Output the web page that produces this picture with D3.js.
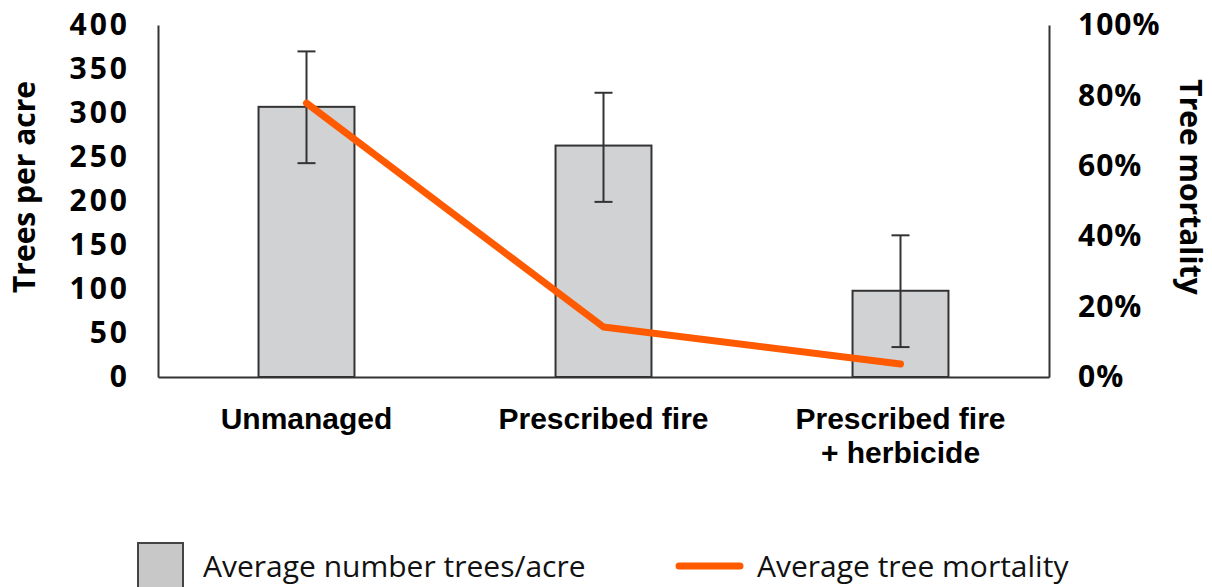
<!DOCTYPE html>
<html>
<head>
<meta charset="utf-8">
<script src="https://cdn.jsdelivr.net/npm/d3@7"></script>
<style>
  body { margin: 0; background: #fff; }
  svg { display: block; font-family: "Open Sans", sans-serif; }
</style>
</head>
<body>
<svg id="chart" width="1212" height="587"></svg>
<script>
// values
const categories = ["Unmanaged", "Prescribed fire", "Prescribed fire|+ herbicide"]
const treesPerAcre = [307, 263, 98]
const errLow = [243, 199, 34]
const errHigh = [370, 323, 161]
const mortality = [0.778, 0.142, 0.037]
const leftTicks = [0, 50, 100, 150, 200, 250, 300, 350, 400]
const rightTicks = [0, 0.2, 0.4, 0.6, 0.8, 1]
const legendLabels = ["Average number trees/acre", "Average tree mortality"]

const margin = { top: 25, bottom: 210, left: 158, right: 163 }
const W = 1212, H = 587
const width = W - margin.left - margin.right
const height = H - margin.top - margin.bottom

const barFill = "#d1d2d4"
const ink = "#333"
const orange = "#ff5a00"

const svg = d3.select("#chart")
const g = svg.append("g").attr("transform", `translate(${margin.left},${margin.top})`)

const x = d3.scaleBand().domain(categories).range([0, width])
  .paddingInner(0.677).paddingOuter(0.3385)
const y = d3.scaleLinear().domain([0, 400]).range([height, 0])
const y2 = d3.scaleLinear().domain([0, 1]).range([height, 0])

// axes
const tickFont = spacing => sel => sel.selectAll("text")
  .attr("fill", "#000").style("font-size", "30px").style("font-weight", 700)
  .style("letter-spacing", spacing + "px").style("font-family", "Open Sans")

const yAxis = g.append("g")
  .call(d3.axisLeft(y).tickValues(leftTicks).tickSize(0).tickSizeOuter(0).tickPadding(28))
yAxis.call(tickFont(3))
const y2Axis = g.append("g").attr("transform", `translate(${width},0)`)
  .call(d3.axisRight(y2).tickValues(rightTicks).tickSize(0).tickSizeOuter(0).tickPadding(29)
    .tickFormat(d3.format(".0%")))
y2Axis.call(tickFont(1))
const xAxis = g.append("g").attr("transform", `translate(0,${height})`)
  .call(d3.axisBottom(x).tickSize(0).tickSizeOuter(0).tickPadding(0))
xAxis.selectAll("text").remove()
xAxis.selectAll(".tick").append("text")
  .attr("text-anchor", "middle")
  .attr("fill", "#000")
  .style("font-size", "30px").style("font-weight", 700)
  .each(function (d) {
    const lines = d.split("|")
    lines.forEach((t, i) => {
      d3.select(this).append("tspan").attr("x", 0).attr("y", 52 + i * 34).text(t)
    })
  })
g.selectAll(".domain").attr("stroke", ink).attr("stroke-width", 2)

// axis titles
svg.append("text")
  .attr("transform", "translate(35,187) rotate(-90)")
  .attr("text-anchor", "middle")
  .style("font-size", "30px").style("font-weight", 700)
  .text("Trees per acre")
svg.append("text")
  .attr("transform", "translate(1180,187) rotate(90)")
  .attr("text-anchor", "middle")
  .style("font-size", "30px").style("font-weight", 700)
  .text("Tree mortality")

// bars
g.selectAll("rect.bar").data(categories).join("rect")
  .attr("class", "bar")
  .attr("x", d => x(d))
  .attr("width", x.bandwidth())
  .attr("y", (d, i) => y(treesPerAcre[i]))
  .attr("height", (d, i) => height - y(treesPerAcre[i]))
  .attr("fill", barFill)
  .attr("stroke", ink)
  .attr("stroke-width", 2)

// error bars
const cx = d => x(d) + x.bandwidth() / 2
const err = g.selectAll("g.err").data(categories).join("g").attr("class", "err")
  .attr("stroke", ink).attr("stroke-width", 2)
err.append("line")
  .attr("x1", cx).attr("x2", cx)
  .attr("y1", (d, i) => y(errLow[i])).attr("y2", (d, i) => y(errHigh[i]))
err.append("line")
  .attr("x1", d => cx(d) - 9).attr("x2", d => cx(d) + 9)
  .attr("y1", (d, i) => y(errHigh[i])).attr("y2", (d, i) => y(errHigh[i]))
err.append("line")
  .attr("x1", d => cx(d) - 9).attr("x2", d => cx(d) + 9)
  .attr("y1", (d, i) => y(errLow[i])).attr("y2", (d, i) => y(errLow[i]))

// mortality line
const line = d3.line()
  .x((d, i) => cx(categories[i]))
  .y(d => y2(d))
g.append("path")
  .datum(mortality)
  .attr("fill", "none")
  .attr("stroke", orange)
  .attr("stroke-width", 7)
  .attr("stroke-linecap", "round")
  .attr("stroke-linejoin", "round")
  .attr("d", line)

// legend
const legend = svg.append("g")
legend.append("rect")
  .attr("x", 138).attr("y", 543).attr("width", 45).attr("height", 50)
  .attr("fill", "#c8c8c8").attr("stroke", "#444").attr("stroke-width", 2)
legend.append("text")
  .attr("x", 203).attr("y", 577)
  .style("font-size", "30px").attr("fill", "#111")
  .text(legendLabels[0])
legend.append("line")
  .attr("x1", 679).attr("x2", 740).attr("y1", 566).attr("y2", 566)
  .attr("stroke", orange).attr("stroke-width", 7).attr("stroke-linecap", "round")
legend.append("text")
  .attr("x", 757).attr("y", 577)
  .style("font-size", "30px").attr("fill", "#111")
  .text(legendLabels[1])
</script>
</body>
</html>
